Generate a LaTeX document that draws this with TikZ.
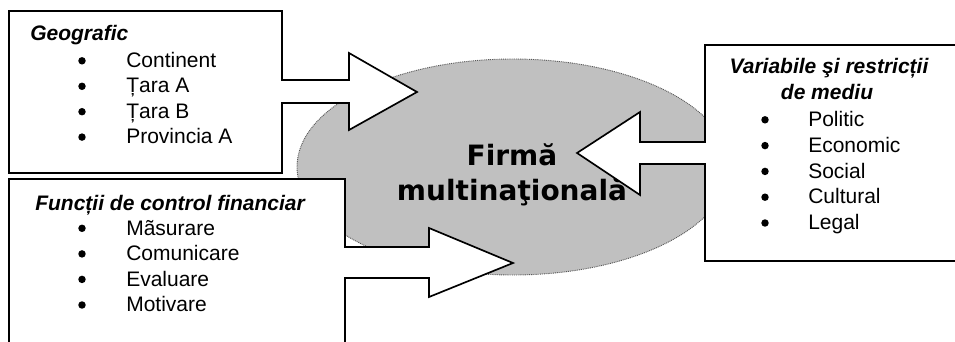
\documentclass[tikz,border=0pt]{standalone}
\usepackage{fontspec}
\setmainfont{Liberation Sans}
\newfontfamily\titlefont{DejaVu Sans}
\begin{document}
\begin{tikzpicture}[x=0.75pt,y=-0.75pt,
  outline/.style={draw=black,line width=1.25pt,fill=white,line join=miter},
  firm/.style={fill={rgb,255:red,192;green,192;blue,192},draw=black!65,line width=0.7pt,dash pattern=on 0.7pt off 0.7pt},
  head/.style={font=\fontsize{15.75}{19}\selectfont\bfseries\itshape,inner sep=0pt},
  item/.style={font=\fontsize{15.75}{19}\selectfont,inner sep=0pt,anchor=base west},
  dot/.style={fill=black,draw=none},
  big/.style={font=\titlefont\fontsize{21}{25}\selectfont\bfseries,inner sep=0pt,anchor=base}]
\clip (0,0) rectangle (955,342);

% central firm
\path[firm] (513,167) ellipse [x radius=162pt, y radius=81pt];
\node[big] (firm1) at (512,165) {Firmă};
\node[big] (firm2) at (512,200) {multinaţională};

% geographic box with its arrow
\path[outline] (9,11) -- (282,11) -- (282,80) -- (349,80) -- (349,53) -- (417,92)
  -- (349,130) -- (349,103) -- (282,103) -- (282,173) -- (9,173) -- cycle;
% financial control box with its arrow
\path[outline] (9,179) -- (345,179) -- (345,247) -- (429,247) -- (429,228) -- (513,263)
  -- (429,297) -- (429,278) -- (345,278) -- (345,350) -- (9,350) -- cycle;
% environment box with its arrow
\path[outline] (965,45) -- (705,45) -- (705,142) -- (640,142) -- (640,112) -- (577,153)
  -- (640,195) -- (640,164) -- (705,164) -- (705,261) -- (965,261);

% Geografic
\node[head,anchor=base west] (geo) at (30,41) {Geografic};
\foreach \t/\b [count=\i] in {Continent/67.5, Țara A/93, Țara B/118.4, Provincia A/143.8}{
  \fill[dot] (82,\b-6.7) circle [radius=2.8pt];
  \node[item] (geo\i) at (126,\b) {\t};
}

% Functii de control financiar
\node[head,anchor=base west] (fin) at (35,210) {Funcții de control financiar};
\foreach \t/\b [count=\i] in {Mãsurare/235, Comunicare/260.6, Evaluare/286.1, Motivare/311.7}{
  \fill[dot] (82,\b-6.7) circle [radius=2.8pt];
  \node[item] (fin\i) at (126,\b) {\t};
}

% Variabile si restrictii de mediu
\node[head,anchor=base] (env) at (829,74) {Variabile şi restricții};
\node[head,anchor=base] (env0) at (827,99.5) {de mediu};
\foreach \t/\b [count=\i] in {Politic/126.5, Economic/152.3, Social/178.1, Cultural/203.9, Legal/229.7}{
  \fill[dot] (765,\b-6.7) circle [radius=2.8pt];
  \node[item] (env\i) at (808,\b) {\t};
}
\end{tikzpicture}
\end{document}
